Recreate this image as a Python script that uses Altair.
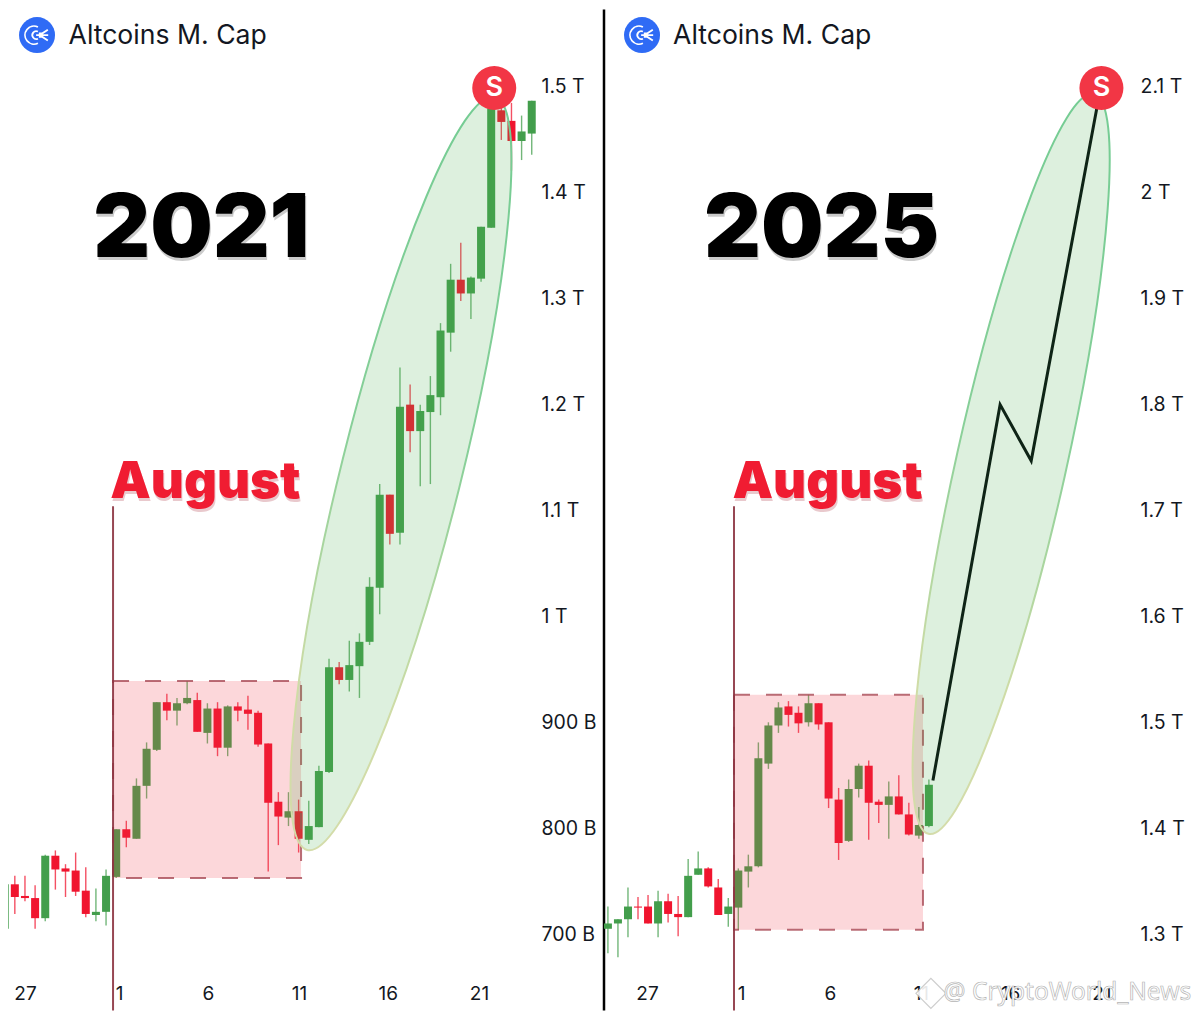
import altair as alt
import pandas as pd

# ---- 2021 panel (market cap in billions, one candle per index step)
l_open = [705,747,736,734,715,774,762,760,741,718,721,754,799,790,840,874,919,911,918,921,890,913,876,915,912,909,880,825,810,816,789,801,853,952,940,953,976,1027,1115,1079,1200,1175,1193,1207,1268,1318,1305,1319,1367,1478,1468,1449,1456]
l_close = [747,735,734,715,774,761,759,740,719,721,755,799,791,840,875,919,911,918,923,891,913,876,915,911,908,879,824,811,816,790,802,854,952,940,954,976,1028,1115,1078,1198,1175,1194,1209,1270,1318,1305,1320,1368,1480,1467,1449,1458,1487]
l_high = [751,755,755,746,775,779,766,777,763,743,761,799,807,847,881,919,927,923,939,928,918,919,916,919,925,911,880,834,834,827,826,859,960,957,977,984,1037,1125,1115,1235,1219,1200,1227,1277,1333,1353,1321,1368,1490,1490,1485,1473,1487]
l_low = [688,719,731,705,712,742,735,736,716,712,708,753,782,790,828,873,902,897,917,891,880,868,868,901,893,877,759,784,802,777,785,801,852,936,929,923,973,1002,1068,1068,1155,1123,1125,1190,1250,1298,1281,1316,1367,1450,1421,1431,1436]
l_index = list(range(0, 53))

# ---- 2025 panel
r_open = [1305,1310,1314,1326,1326,1310,1331,1319,1316,1356,1362,1344,1319,1325,1359,1364,1461,1497,1515,1509,1500,1518,1500,1427,1388,1437,1459,1425,1422,1430,1413,1393,1402]
r_close = [1310,1314,1326,1325,1310,1331,1319,1316,1355,1362,1345,1318,1326,1360,1364,1466,1497,1514,1507,1499,1518,1498,1428,1386,1437,1459,1424,1422,1430,1413,1394,1403,1441]
r_high = [1326,1314,1344,1335,1337,1341,1338,1336,1371,1378,1363,1352,1334,1362,1375,1481,1500,1519,1520,1515,1526,1518,1500,1438,1446,1461,1464,1427,1444,1450,1424,1420,1446]
r_low = [1282,1278,1297,1314,1310,1297,1311,1298,1316,1356,1344,1318,1307,1304,1344,1363,1456,1490,1496,1490,1496,1493,1419,1370,1387,1429,1389,1405,1390,1413,1393,1390,1401]
r_index = list(range(-2, 31))

# projected path on the 2025 panel
path_x = [30.4, 37.1, 40.2, 46.8]
path_y = [1445, 1800, 1747, 2083]

l_ticks = [700, 800, 900, 1000, 1100, 1200, 1300, 1400, 1500]
r_ticks = [1300, 1400, 1500, 1600, 1700, 1800, 1900, 2000, 2100]
date_labels = ["27", "1", "6", "11", "16", "21"]
l_date_pos = [2.0, 11.3, 20.06, 29.04, 37.8, 46.8]
r_date_pos = [1.9, 11.27, 20.14, 29.2, 38.1, 47.2]

GREEN, RED = "#439e4c", "#f0152f"
FONT = "Inter"
ELLIPSE = "M0,-1A{r},1,0,1,1,0,1A{r},1,0,1,1,0,-1Z"
LOGO = ("M0.05,-0.45A0.5,0.5,0,1,0,0.05,0.45M0.05,-0.2A0.22,0.22,0,1,0,0.05,0.2"
        "M-0.05,0L0.62,0M0.1,-0.1L0.3,-0.1L0.6,-0.3M0.1,0.1L0.3,0.1L0.6,0.3")


def panel(idx, o, c, h, l, xdom, ydom, ticks, dpos, yoffset, year, yearpos, augpos, box, rule,
          ell, logo, title, spos):
    sx = alt.Scale(domain=xdom, nice=False, zero=False, padding=0)
    sy = alt.Scale(domain=ydom, nice=False, zero=False, padding=0)
    axx = alt.Axis(
        values=dpos, grid=False, ticks=False, domain=False, labelPadding=0,
        labelBaseline="middle", labelFlush=False, labelOverlap=False, offset=-19, title=None,
        labelFontSize=19, labelFont=FONT, labelColor="#131722",
        labelExpr="%s[indexof(%s,datum.value)]" % (date_labels, dpos))
    axy = alt.Axis(
        orient="right", values=ticks, grid=False, ticks=False, domain=False, labelPadding=0,
        labelAlign="left", labelFlush=False, labelOverlap=False, offset=yoffset, labelFontSize=19.5,
        labelFont=FONT, labelColor="#131722", title=None,
        labelExpr="datum.value>=1000?format(datum.value/1000,'~g')+' T':datum.value+' B'")

    def X(f):
        return alt.X(f, scale=sx, axis=axx)

    def Y(f):
        return alt.Y(f, scale=sy, axis=axy)

    df = pd.DataFrame({"i": idx, "o": o, "c": c, "h": h, "l": l})
    df["d"] = ["up" if b >= a else "dn" for a, b in zip(o, c)]
    col = alt.Color("d:N", scale=alt.Scale(domain=["up", "dn"], range=[GREEN, RED]), legend=None)

    wick = alt.Chart(df).mark_rule(strokeWidth=1.4, opacity=0.75, clip=True).encode(
        x=X("i:Q"), y=Y("h:Q"), y2="l:Q", color=col)
    body = alt.Chart(df).mark_bar(size=8, clip=True).encode(
        x=X("i:Q"), y=Y("o:Q"), y2="c:Q", color=col)

    bx = alt.Chart(pd.DataFrame([box])).mark_rect(
        fill="#f23645", fillOpacity=0.2, stroke="#a84a55", strokeOpacity=0.8, strokeWidth=2,
        strokeDash=[16, 16]).encode(x=X("a:Q"), x2="b:Q", y=Y("t:Q"), y2="u:Q")
    rl = alt.Chart(pd.DataFrame([rule])).mark_rule(color="#8c3340", strokeWidth=2, opacity=0.9).encode(
        x=X("a:Q"), y=Y("t:Q"), y2="u:Q")

    grad = alt.Gradient(gradient="linear", x1=0, x2=0, y1=0, y2=1, stops=[
        alt.GradientStop(offset=0, color="#74cc93"),
        alt.GradientStop(offset=0.45, color="#86cf98"),
        alt.GradientStop(offset=0.8, color="#cfdca6"),
        alt.GradientStop(offset=1, color="#d4dcaa")])
    el = alt.Chart(pd.DataFrame([ell])).mark_point(
        shape=ELLIPSE.format(r=ell["r"]), size=(2 * ell["a"]) ** 2, angle=ell["ang"], filled=False,
        fill="#4caf50", fillOpacity=0.19, stroke=grad, strokeWidth=2, opacity=1).encode(
        x=X("x:Q"), y=Y("y:Q"))

    def txt(rows, **kw):
        return alt.Chart(pd.DataFrame(rows)).mark_text(**kw).encode(
            x=X("x:Q"), y=Y("y:Q"), text="s:N")

    def pt(row, **kw):
        return alt.Chart(pd.DataFrame([row])).mark_point(**kw).encode(x=X("x:Q"), y=Y("y:Q"))

    yr_s = txt([{**yearpos, "s": year}], font=FONT, fontWeight=900, fontSize=88, color="#000000",
               opacity=0.2, dy=3, dx=1)
    yr = txt([{**yearpos, "s": year}], font=FONT, fontWeight=900, fontSize=88, color="#000000")
    au_s = txt([{**augpos, "s": "August"}], font=FONT, fontWeight=900, fontSize=51, color="#a01020",
               opacity=0.22, dy=3, dx=1)
    au = txt([{**augpos, "s": "August"}], font=FONT, fontWeight=900, fontSize=51, color="#f01c32")
    ttl = txt([{**title, "s": "Altcoins M. Cap"}], font=FONT, fontSize=26.6, color="#131722",
              align="left")
    lg = pt(logo, shape="circle", size=1296, filled=True, color="#2f6bf5", opacity=1)
    lg2 = pt(logo, shape=LOGO, size=1296, filled=False, stroke="#ffffff", strokeWidth=1.8, opacity=1)
    s_c = pt(spos, shape="circle", size=1936, filled=True, color="#f23645", opacity=1)
    s_t = txt([{**spos, "s": "S"}], font=FONT, fontSize=27, fontWeight=600, color="#ffffff")

    return [body, wick, bx, rl, el, ttl, lg, lg2, yr_s, yr, au_s, au, s_c, s_t], X, Y, txt, pt


XL = [0.326, 59.13]
YL = [626.4, 1574.6]
XR = [-2.39, 56.23]
YR = [1226.4, 2174.6]

left, Xl, Yl, _, _ = panel(
    l_index, l_open, l_close, l_high, l_low, XL, YL, l_ticks, l_date_pos, -63, "2021",
    {"x": 19.4, "y": 1364}, {"x": 19.8, "y": 1126},
    {"a": 10.69, "b": 29.24, "t": 939, "u": 753}, {"a": 10.69, "t": 1104, "u": YL[0] + 1.5},
    {"x": 39.1, "y": 1135, "a": 388, "r": 0.1546, "ang": 14.0},
    {"x": 3.19, "y": 1549}, {"x": 6.3, "y": 1548.5}, {"x": 48.3, "y": 1499})
sep = alt.Chart(pd.DataFrame({"x": [59.13], "t": [YL[1] - 1.5], "u": [YL[0] + 1.5]})).mark_rule(
    color="#000000", strokeWidth=2.5).encode(x=Xl("x:Q"), y=Yl("t:Q"), y2="u:Q")

right, Xr, Yr, txt_r, pt_r = panel(
    r_index, r_open, r_close, r_high, r_low, XR, YR, r_ticks, r_date_pos, -52, "2025",
    {"x": 19.3, "y": 1964}, {"x": 19.9, "y": 1726},
    {"a": 10.57, "b": 29.41, "t": 1526, "u": 1304}, {"a": 10.57, "t": 1704, "u": YR[0] + 1.5},
    {"x": 38.2, "y": 1744, "a": 379, "r": 0.145, "ang": 12.6},
    {"x": 1.4, "y": 2149}, {"x": 4.5, "y": 2148.5}, {"x": 47.2, "y": 2099})
line = alt.Chart(pd.DataFrame({"x": path_x, "y": path_y})).mark_line(
    color="#0e2416", strokeWidth=3).encode(x=Xr("x:Q"), y=Yr("y:Q"))
wm_d = pt_r({"x": 30.2, "y": 1244}, shape="diamond", size=900, filled=True, fill="#ffffff",
            stroke="#c8c8c8", strokeWidth=1.2, opacity=0.9)
wm = txt_r([{"x": 56.15, "y": 1244, "s": "@ CryptoWorld_News"}], font="Noto Sans", fontSize=24.5,
           align="right", fill="#ffffff", stroke="#b5b5b5", strokeWidth=0.7)

# the projected line sits under the S badge
right = right[:-2] + [line] + right[-2:] + [wm_d, wm]

p1 = alt.layer(*left, sep).properties(width=596, height=1004)
p2 = alt.layer(*right).properties(width=588, height=1004)

chart = alt.hconcat(p1, p2, spacing=0, bounds="flush").properties(
    padding=0, background="#ffffff").configure_view(stroke=None)
chart.save("out.html", embed_options={"renderer": "svg", "actions": False})
